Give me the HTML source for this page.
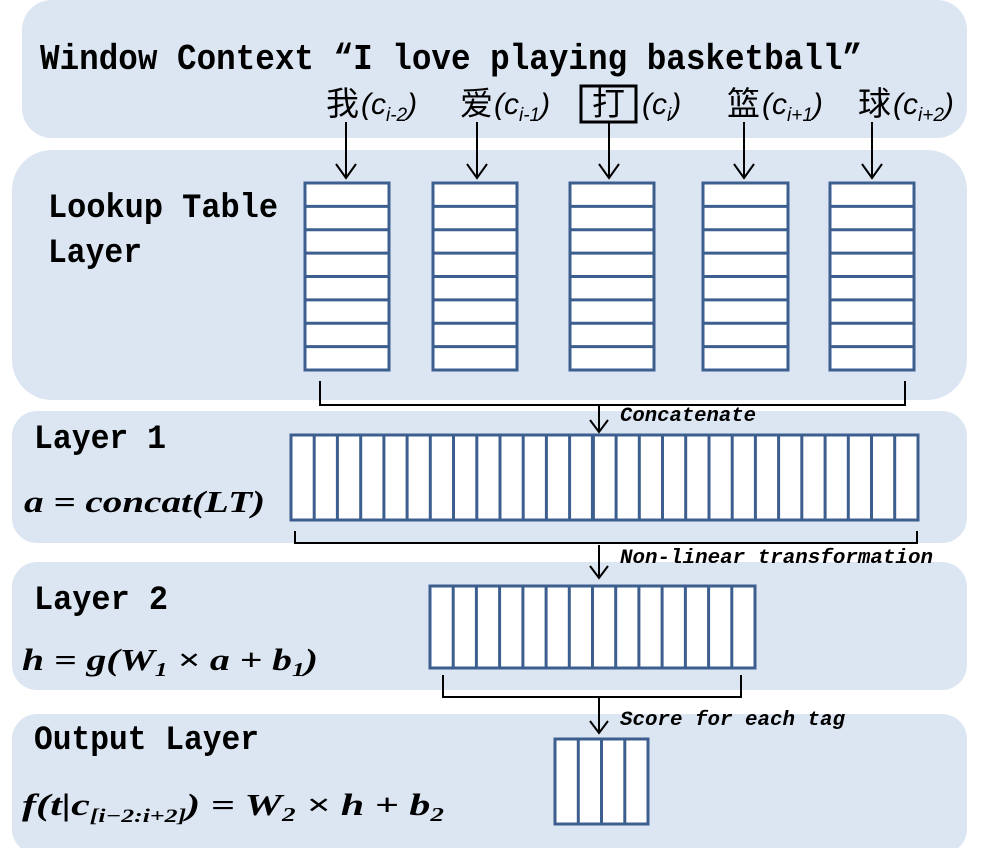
<!DOCTYPE html>
<html><head><meta charset="utf-8"><style>
html,body{margin:0;padding:0;background:#fff;}
svg{display:block;}
.t{font-family:"Liberation Mono","Noto Sans CJK SC",monospace;fill:#000;font-weight:bold;}
.c{font-family:"Liberation Sans","Noto Sans CJK SC",sans-serif;fill:#000;}
.m{font-family:"Liberation Serif",serif;font-weight:bold;font-style:italic;fill:#000;}
</style></head><body>
<svg width="1005" height="848" viewBox="0 0 1005 848" xmlns="http://www.w3.org/2000/svg">
<g fill="#dce6f2">
<rect x="22" y="0" width="945" height="138" rx="30"/>
<rect x="12" y="150" width="955" height="250" rx="40"/>
<rect x="12" y="411" width="955" height="132" rx="25"/>
<rect x="12" y="562" width="955" height="128" rx="25"/>
<rect x="12" y="714" width="955" height="140" rx="25"/>
</g>
<text class="t" x="40" y="69" font-size="36" textLength="822" lengthAdjust="spacingAndGlyphs">Window Context “I love playing basketball”</text>
<g class="c" font-size="33">
<text x="326" y="115">我</text><text x="460" y="115">爱</text><text x="592" y="115">打</text><text x="727" y="115">篮</text><text x="858" y="115">球</text>
</g>
<g class="c" font-size="30" font-style="italic">
<text x="361" y="114">(c<tspan font-size="19" dy="7">i-2</tspan><tspan dy="-7">)</tspan></text>
<text x="494" y="114">(c<tspan font-size="19" dy="7">i-1</tspan><tspan dy="-7">)</tspan></text>
<text x="642" y="114">(c<tspan font-size="19" dy="7">i</tspan><tspan dy="-7">)</tspan></text>
<text x="762" y="114">(c<tspan font-size="19" dy="7">i+1</tspan><tspan dy="-7">)</tspan></text>
<text x="893" y="114">(c<tspan font-size="19" dy="7">i+2</tspan><tspan dy="-7">)</tspan></text>
</g>
<rect x="581" y="86" width="55" height="36" fill="none" stroke="#000" stroke-width="3"/>
<g stroke="#000" stroke-width="2" fill="none">
<path d="M346 122V176M336 164L346 178L356 164"/>
<path d="M477 122V176M467 164L477 178L487 164"/>
<path d="M609 122V176M599 164L609 178L619 164"/>
<path d="M744 122V176M734 164L744 178L754 164"/>
<path d="M872 122V176M862 164L872 178L882 164"/>
</g>
<g class="t" font-size="34">
<text x="48" y="217" textLength="230" lengthAdjust="spacingAndGlyphs">Lookup Table</text>
<text x="48" y="262" textLength="94" lengthAdjust="spacingAndGlyphs">Layer</text>
<text x="34" y="448" textLength="132" lengthAdjust="spacingAndGlyphs">Layer 1</text>
<text x="34" y="609" textLength="134" lengthAdjust="spacingAndGlyphs">Layer 2</text>
<text x="34" y="749" textLength="225" lengthAdjust="spacingAndGlyphs">Output Layer</text>
</g>
<text class="m" x="24" y="512" font-size="31" textLength="241" lengthAdjust="spacingAndGlyphs">a = concat(LT)</text>
<text class="m" x="22" y="670" font-size="31" textLength="296" lengthAdjust="spacingAndGlyphs">h = g(W<tspan font-size="20" dy="6">1</tspan><tspan dy="-6"> × a + b</tspan><tspan font-size="20" dy="6">1</tspan><tspan dy="-6">)</tspan></text>
<text class="m" x="22" y="815" font-size="31" textLength="422" lengthAdjust="spacingAndGlyphs">f(t|c<tspan font-size="19" dy="7">[i−2:i+2]</tspan><tspan dy="-7">) = W</tspan><tspan font-size="20" dy="6">2</tspan><tspan dy="-6"> × h + b</tspan><tspan font-size="20" dy="6">2</tspan></text>
<g fill="#fff" stroke="#3d5f8f" stroke-width="3">
<rect x="305" y="183" width="84" height="187"/>
<rect x="433" y="183" width="84" height="187"/>
<rect x="570" y="183" width="84" height="187"/>
<rect x="703" y="183" width="85" height="187"/>
<rect x="830" y="183" width="84" height="187"/>
<rect x="291" y="435" width="627" height="85"/>
<rect x="430" y="586" width="325" height="82"/>
<rect x="555" y="739" width="93" height="85"/>
</g>
<g stroke="#3d5f8f" stroke-width="3">
<path d="M305 206.4H914M305 229.8H914M305 253.1H914M305 276.5H914M305 299.9H914M305 323.3H914M305 346.6H914" stroke-dasharray="84 44 84 53 84 49 85 42 84 1000"/>
<path d="M314.2 435V520M337.4 435V520M360.7 435V520M383.9 435V520M407.1 435V520M430.3 435V520M453.5 435V520M476.8 435V520M500 435V520M523.2 435V520M546.4 435V520M569.6 435V520M616.1 435V520M639.3 435V520M662.5 435V520M685.7 435V520M709 435V520M732.2 435V520M755.4 435V520M778.6 435V520M801.8 435V520M825.1 435V520M848.3 435V520M871.5 435V520M894.7 435V520"/>
<path d="M592.9 435V520" stroke-width="4"/>
<path d="M453.2 586V668M476.4 586V668M499.6 586V668M522.9 586V668M546.1 586V668M569.3 586V668M592.5 586V668M615.7 586V668M638.9 586V668M662.1 586V668M685.4 586V668M708.6 586V668M731.8 586V668"/>
<path d="M578.3 739V824M601.5 739V824M624.8 739V824"/>
</g>
<g stroke="#000" stroke-width="2" fill="none">
<path d="M320 381V405H905V381"/>
<path d="M295 531V543H917V531"/>
<path d="M443 675V697H741V675"/>
<path d="M599 405V431M590 420L599 432L608 420"/>
<path d="M599 545V576M590 566L599 578L608 566"/>
<path d="M599 697V731M590 721L599 733L608 721"/>
</g>
<g class="t" font-size="20" font-style="italic">
<text x="620" y="421" textLength="136" lengthAdjust="spacingAndGlyphs">Concatenate</text>
<text x="620" y="563" textLength="313" lengthAdjust="spacingAndGlyphs">Non-linear transformation</text>
<text x="620" y="725" textLength="225" lengthAdjust="spacingAndGlyphs">Score for each tag</text>
</g>
</svg>
</body></html>
